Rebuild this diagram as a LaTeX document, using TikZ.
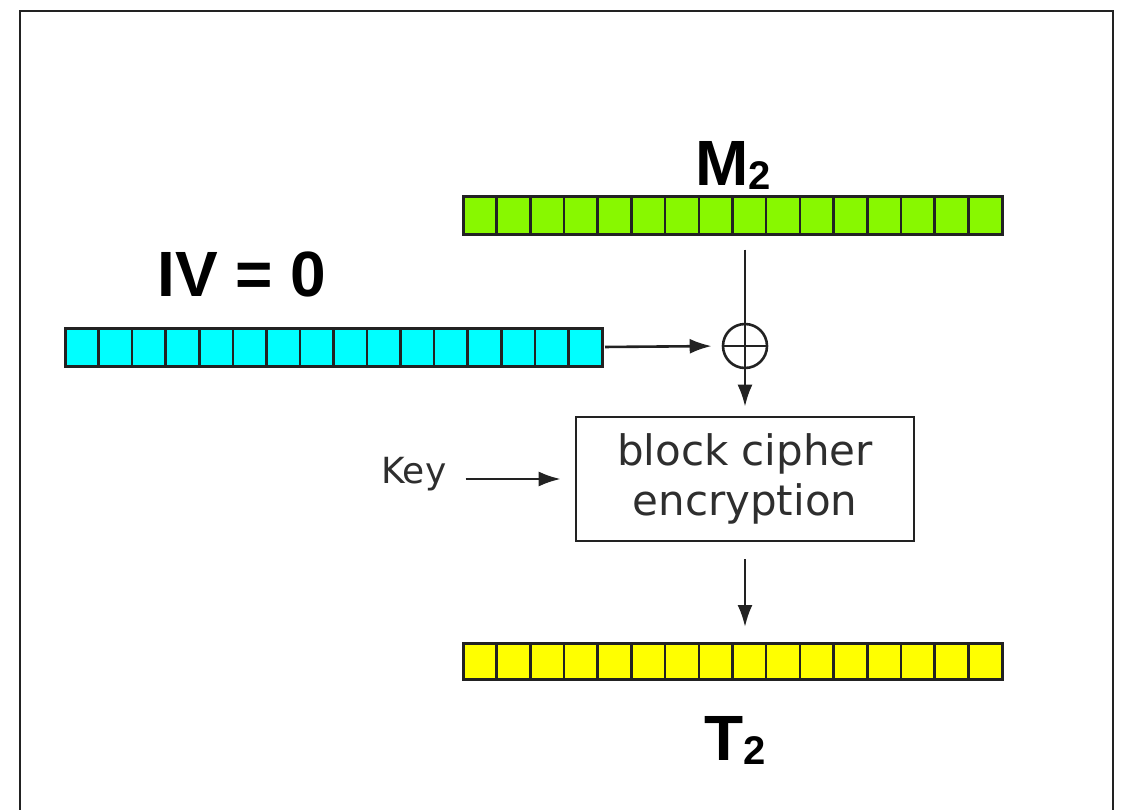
\documentclass[tikz,border=0pt]{standalone}
\usepackage{fontspec}
\setmainfont{Liberation Sans}
\newfontfamily\boxfont{DejaVu Sans}
\usepackage{tikz}
\usetikzlibrary{positioning,calc,arrows.meta}
\definecolor{CellGreen}{HTML}{88F800}
\definecolor{CellCyan}{HTML}{00FFFF}
\definecolor{CellYellow}{HTML}{FFFF00}
\definecolor{Ink}{HTML}{222222}
\definecolor{SoftInk}{HTML}{2E2E2E}

\tikzset{
	bitbar/.style={draw=Ink, line width=1.5pt, inner sep=0pt, outer sep=0pt,
		minimum width=269.5pt, minimum height=19pt},
	flow/.style={draw=Ink, line width=1.3pt, -{Latex[length=11pt,width=7.5pt]}},
	biglabel/.style={font=\bfseries\fontsize{32}{33}\selectfont, inner sep=0pt},
	smalltext/.style={font=\boxfont\fontsize{18}{20}\selectfont, text=SoftInk, inner sep=0pt},
}
\newcommand{\subtwo}{{\fontsize{20}{20}\selectfont\raisebox{-2pt}{2}}}

\begin{document}
\begin{tikzpicture}[x=0.5pt,y=-0.5pt]
	\useasboundingbox (0,0) rectangle (1124,809);
	% frame, open at the bottom
	\draw[Ink, line width=1.1pt] (20,815) -- (20,11) -- (1113,11) -- (1113,815);
	
	% the three blocks of 16 cells
	\node[bitbar, fill=CellGreen] (m2bar) at (732.5,215.5) {};
	\node[bitbar, fill=CellCyan, minimum width=268.5pt] (ivbar) at (333.5,347) {};
	\node[bitbar, fill=CellYellow, minimum height=18pt] (t2bar) at (732.5,661) {};
	\foreach \bar in {m2bar,ivbar,t2bar}{
		\foreach \k in {1,...,15}
		\draw[Ink, line width=1.3pt] ($(\bar.north west)!\k/16!(\bar.north east)$)
			-- ($(\bar.south west)!\k/16!(\bar.south east)$);
	}
	
	% labels
	\node[biglabel, anchor=base west] (m2label) at (695,185) {M\subtwo};
	\node[biglabel, anchor=base west] (ivlabel) at (157,296) {IV = 0};
	\node[biglabel, anchor=base west] (t2label) at (704,760) {T\subtwo};
	
	% xor and cipher box
	\node[circle, draw=Ink, line width=1.3pt, minimum size=22pt, inner sep=0pt] (xor) at (745,346) {};
	\draw[Ink, line width=1.3pt] (xor.north) -- (xor.south);
	\draw[Ink, line width=1.3pt] (xor.west) -- (xor.east);
	\node[
	draw=Ink,
	line width=1.3pt,
	minimum width=169pt,
	minimum height=62pt,
	align=center,
	font=\boxfont\fontsize{21}{25}\selectfont,
	text=SoftInk
	] (cipher) at (745,479) {block cipher\\encryption};
	\node[smalltext, left=64pt of cipher, yshift=2.5pt] (key) {Key};
	
	% connectors
	\coordinate (m2tap) at ($(m2bar.south -| xor.north)+(0,15)$);
	\draw[Ink, line width=1.3pt] (m2tap) -- (xor.north);
	\draw[flow, shorten <=1.5pt, shorten >=5pt] (ivbar.east) -- (xor.west);
	\draw[flow, shorten >=4.5pt] (xor.south) -- (cipher.north);
	\draw[flow, shorten <=9.5pt, shorten >=7pt] (key.east |- cipher.west) -- (cipher.west);
	\draw[flow, shorten <=8.5pt, shorten >=8pt] (cipher.south) -- (t2bar.north -| cipher.south);
\end{tikzpicture}
\end{document}
